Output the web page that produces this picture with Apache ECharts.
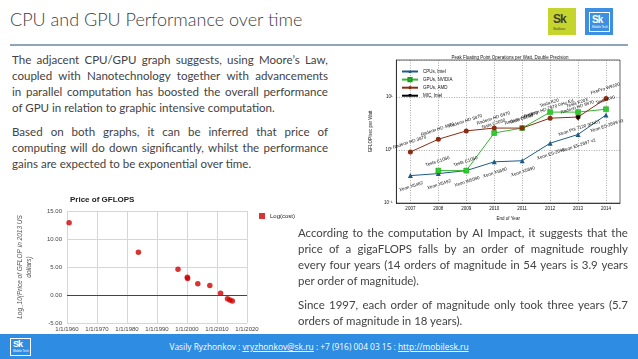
<!DOCTYPE html>
<html><head><meta charset="utf-8">
<script src="https://cdn.jsdelivr.net/npm/echarts@6/dist/echarts.min.js"></script>
<style>
html,body{margin:0;padding:0;width:638px;height:359px;overflow:hidden;background:#fff;color:#3a3a3a;font-family:"Open Sans",Lato,sans-serif}
#title{position:absolute;left:10px;top:8px;font-size:18px;font-weight:300;color:#404040;white-space:nowrap;font-family:Lato,"Open Sans",sans-serif}
#rule{position:absolute;left:10px;right:10px;top:44px;height:2px;background:#8fa6ba}
.logo{position:absolute;top:8px;width:28px;height:27px;font-family:"Liberation Sans",Arial,sans-serif}
#lg1{left:548px;background:#c6d52e}
#lg2{left:585px;background:#3d8fe2}
#lg1 b{position:absolute;left:5px;top:4px;font-size:12px;color:#3f4030;letter-spacing:-1px}
#lg1 i{position:absolute;left:5px;top:19px;font-size:3px;color:#3f4030;font-style:normal}
#lg2 .in{position:absolute;left:4px;top:4px;width:19px;height:18px;border:1px solid #fff}
#lg2 b{position:absolute;left:2px;top:1px;font-size:10px;color:#fff;letter-spacing:-1px}
#lg2 i{position:absolute;left:2px;top:12px;font-size:3px;color:#fff;font-style:normal}
.para{position:absolute;font-family:Lato,"Open Sans",sans-serif;color:#434343}
.jl{display:flex;justify-content:space-between;white-space:nowrap}
.ll{white-space:nowrap}
#footer{position:absolute;left:0;top:334px;width:638px;height:25px;background:#2e8ce2}
#flogo{position:absolute;left:10px;top:4px;width:19px;height:16px;border:1px solid #fff;font-family:"Liberation Sans",Arial,sans-serif}
#flogo b{position:absolute;left:2px;top:0px;font-size:9px;color:#fff;letter-spacing:-1px}
#flogo i{position:absolute;left:2px;top:10px;font-size:3px;color:#fff;font-style:normal}
#ftext{position:absolute;left:0;width:638px;top:7px;text-align:center;font-size:8.4px;color:#fff;font-family:"Open Sans",sans-serif;white-space:nowrap}
#ftext u{text-decoration:underline}
#c1{position:absolute;left:0;top:186px;width:300px;height:148px}
#c2{position:absolute;left:360px;top:44px;width:272px;height:182px}
</style></head>
<body>
<div id="title">CPU and GPU Performance over time</div>
<div id="rule"></div>
<div class="logo" id="lg1"><b>Sk</b><i>Skolkovo</i></div>
<div class="logo" id="lg2"><div class="in"><b>Sk</b><i>Mobile Tech</i></div></div>
<div id="c1"></div>
<div id="c2"></div>
<div id="footer"><div id="flogo"><b>Sk</b><i>Mobile Tech</i></div>
<div id="ftext">Vasily Ryzhonkov : <u>vryzhonkov@sk.ru</u> : +7 (916) 004 03 15 : <u>http://mobilesk.ru</u></div></div>
<script>
// ---------- slide text ----------
const leftLines = [
  "The adjacent CPU/GPU graph suggests, using Moore\u2019s Law,",
  "coupled with Nanotechnology together with advancements",
  "in parallel computation has boosted the overall performance",
  "of GPU in relation to graphic intensive computation.",
  "Based on both graphs, it can be inferred that price of",
  "computing will do down significantly, whilst the performance",
  "gains are expected to be exponential over time."
];
const leftLast = [3, 6];
const rightLines = [
  "According to the computation by AI Impact, it suggests that the",
  "price of a gigaFLOPS falls by an order of magnitude roughly",
  "every four years (14 orders of magnitude in 54 years is 3.9 years",
  "per order of magnitude).",
  "Since 1997, each order of magnitude only took three years (5.7",
  "orders of magnitude in 18 years)."
];
const rightLast = [3, 5];

// ---------- chart data: Price of GFLOPS ----------
const priceYears = [1960.7, 1983.8, 1997.0, 2000.1, 2000.2, 2003.6, 2007.6, 2011.2, 2013.5, 2014.3, 2015.1];
const priceLog   = [12.9, 7.65, 4.6, 3.15, 2.95, 2.0, 1.7, 0.3, -0.65, -0.88, -1.05];
const priceXTicks = [1960, 1970, 1980, 1990, 2000, 2010, 2020];

// ---------- chart data: GFLOP/sec per Watt ----------
const endYears = ['2007','2008','2009','2010','2011','2012','2013','2014'];
const cpuIntel  = [0.33, 0.36, 0.41, 0.60, 0.63, 1.35, 1.97, 4.6];
const gpuNvidia = [null, 0.41, 0.41, 2.1, 2.6, 5.2, 5.2, 5.9];
const gpuAmd    = [0.92, 1.6, 2.3, 2.6, 2.6, 4.0, 4.2, 9.4];
const micIntel  = [null, null, null, null, null, null, 4.0, null];
const cpuNames  = ['Xeon X5482','Xeon X5492','Xeon W5590','Xeon X5680','Xeon X5690','Xeon E5-2690','Xeon E5-2697 v2','Xeon E5-2699 v3'];
const nvNames   = ['','Tesla C1060','Tesla C1060','Tesla C2050','Tesla C2090','Tesla K20','Tesla K20X','Tesla K40'];
const amdNames  = ['Radeon HD 3870','Radeon HD 4870','Radeon HD 5870','Radeon HD 6970','Radeon HD 6970','Radeon HD 7970 GHz Ed.','Radeon HD 8970','FirePro W9100'];
const micNames  = ['','','','','','','Xeon Phi 7120 (KNC)',''];

function para(lines, last, left, top, width, lh, gapAfter, base) {
  const meas = document.createElement('span');
  meas.style.cssText = 'position:absolute;visibility:hidden;white-space:nowrap;font-family:Lato,"Open Sans",sans-serif;font-size:' + base + 'px';
  document.body.appendChild(meas);
  let maxW = 0;
  lines.forEach(l => { meas.textContent = l; maxW = Math.max(maxW, meas.getBoundingClientRect().width); });
  meas.remove();
  let fs = base;
  if (maxW > width * 0.97) fs = base * width * 0.97 / maxW;
  const box = document.createElement('div');
  box.className = 'para';
  box.style.cssText = 'left:' + left + 'px;top:' + top + 'px;width:' + width + 'px;font-size:' + fs.toFixed(2) + 'px;line-height:' + lh + 'px';
  lines.forEach((l, i) => {
    const d = document.createElement('div');
    if (last.indexOf(i) >= 0) {
      d.className = 'll'; d.textContent = l;
      if (i !== lines.length - 1) d.style.marginBottom = gapAfter + 'px';
    } else {
      d.className = 'jl';
      l.split(' ').forEach((w, k, arr) => {
        const s = document.createElement('span');
        s.textContent = w + (k < arr.length - 1 ? ' ' : '');
        d.appendChild(s);
      });
    }
    d.style.width = width + 'px';
    box.appendChild(d);
  });
  document.body.appendChild(box);
}
para(leftLines, leftLast, 12, 52, 316, 16, 8, 12.5);
para(rightLines, rightLast, 298, 225, 330, 16, 8, 12.5);

// ---------- left chart ----------
const c1 = echarts.init(document.getElementById('c1'), null, {renderer: 'canvas'});
const FF = '"Liberation Sans", Arial, sans-serif';
c1.setOption({
  animation: false,
  textStyle: {fontFamily: FF},
  title: {text: 'Price of GFLOPS', left: 65, top: 5, textStyle: {fontSize: 8, fontWeight: 'bold', color: '#222', fontFamily: FF}},
  legend: {left: 254, top: 22, icon: 'rect', itemWidth: 6, itemHeight: 6, itemGap: 2,
    textStyle: {fontSize: 6, color: '#222', fontFamily: FF}, data: ['Log(cost)']},
  grid: {left: 67, right: 53, top: 25, bottom: 11},
  xAxis: {type: 'value', min: priceXTicks[0], max: priceXTicks[priceXTicks.length - 1], interval: 10,
    axisLine: {show: false}, axisTick: {show: false},
    axisLabel: {fontSize: 6, color: '#444', margin: 3, formatter: v => '1/1/' + v},
    splitLine: {show: true, lineStyle: {color: '#d6d6d6', width: 1}}},
  yAxis: {type: 'value', min: -5, max: 15, interval: 5,
    axisLine: {show: false}, axisTick: {show: false},
    axisLabel: {fontSize: 6, color: '#444', margin: 5, formatter: v => v.toFixed(2)},
    splitLine: {show: true, lineStyle: {color: '#d6d6d6', width: 1}},
    name: 'Log_10(Price of GFLOP in 2013 US\ndollars)', nameLocation: 'middle', nameGap: 33,
    nameTextStyle: {fontSize: 6.5, color: '#555', fontStyle: 'italic', lineHeight: 9}},
  series: [{
    name: 'Log(cost)', type: 'scatter', symbolSize: 5.5, itemStyle: {color: '#d00000'},
    data: priceYears.map((y, i) => [y, priceLog[i]]),
    markLine: {silent: true, symbol: 'none', label: {show: false},
      lineStyle: {color: '#444', width: 1, type: 'solid'}, data: [{yAxis: 0}]}
  }]
});

// ---------- right chart ----------
const c2 = echarts.init(document.getElementById('c2'), null, {renderer: 'canvas'});
const FS = 4.5;
const sup = {'-1': '10\u207B\u00B9', '0': '10\u2070', '1': '10\u00B9'};
function lab(names, pos, dist) {
  return {show: true, position: pos, distance: dist, rotate: 18, fontSize: FS, color: '#111',
    fontFamily: FF, formatter: p => names[p.dataIndex] || ''};
}
c2.setOption({
  animation: false,
  textStyle: {fontFamily: FF},
  title: {text: 'Peak Floating Point Operations per Watt, Double Precision', left: 145, textAlign: 'center', top: 6,
    textStyle: {fontSize: FS, fontWeight: 'normal', color: '#111', fontFamily: FF}},
  legend: {orient: 'vertical', left: 36, top: 20, itemWidth: 16, itemHeight: 4, itemGap: 3,
    textStyle: {fontSize: FS, color: '#111', fontFamily: FF},
    data: ['CPUs, Intel', 'GPUs, NVIDIA', 'GPUs, AMD', 'MIC, Intel']},
  grid: {left: 31, right: 12, top: 16, bottom: 19, show: true, borderColor: '#000', borderWidth: 0.6, backgroundColor: 'transparent'},
  xAxis: {type: 'category', data: endYears, boundaryGap: true,
    axisLine: {lineStyle: {color: '#000', width: 0.6}},
    axisTick: {inside: true, alignWithLabel: true, length: 2, lineStyle: {color: '#000', width: 0.6}},
    axisLabel: {fontSize: FS, color: '#111', margin: 3},
    splitLine: {show: true, alignWithLabel: true, lineStyle: {color: '#555', width: 0.5, type: [1, 1.5]}},
    name: 'End of Year', nameLocation: 'middle', nameGap: 9, nameTextStyle: {fontSize: FS, color: '#111'}},
  yAxis: {type: 'log', logBase: 10, min: 0.1, max: 50,
    axisLine: {show: true, lineStyle: {color: '#000', width: 0.6}},
    axisTick: {inside: true, length: 2, lineStyle: {color: '#000', width: 0.6}},
    axisLabel: {fontSize: FS, color: '#111', margin: 4, showMaxLabel: false,
      formatter: v => { const e = Math.round(Math.log10(v)); return Math.abs(Math.log10(v) - e) < 1e-6 ? (sup[String(e)] || '') : ''; }},
    splitLine: {show: true, lineStyle: {color: '#555', width: 0.5, type: [1, 1.5]}},
    name: 'GFLOP/sec per Watt', nameLocation: 'middle', nameGap: 14, nameTextStyle: {fontSize: FS, color: '#111'}},
  series: [
    {name: 'CPUs, Intel', type: 'line', data: cpuIntel, symbol: 'triangle', symbolSize: 5,
      itemStyle: {color: '#1d5b86'}, lineStyle: {color: '#1d5b86', width: 1}, label: lab(cpuNames, 'bottom', 6)},
    {name: 'GPUs, NVIDIA', type: 'line', data: gpuNvidia, symbol: 'rect', symbolSize: 5,
      itemStyle: {color: '#2ecc2e', borderColor: '#1f9a1f', borderWidth: 0.5}, lineStyle: {color: '#33b833', width: 1}, label: lab(nvNames, 'top', 4)},
    {name: 'GPUs, AMD', type: 'line', data: gpuAmd, symbol: 'circle', symbolSize: 5,
      itemStyle: {color: '#8a2c12'}, lineStyle: {color: '#8a2c12', width: 1}, label: lab(amdNames, 'top', 5)},
    {name: 'MIC, Intel', type: 'line', data: micIntel, symbol: 'triangle', symbolRotate: 180, symbolSize: 5,
      itemStyle: {color: '#000'}, lineStyle: {color: '#000', width: 1}, label: lab(micNames, 'bottom', 5)}
  ]
});
</script>
</body></html>
